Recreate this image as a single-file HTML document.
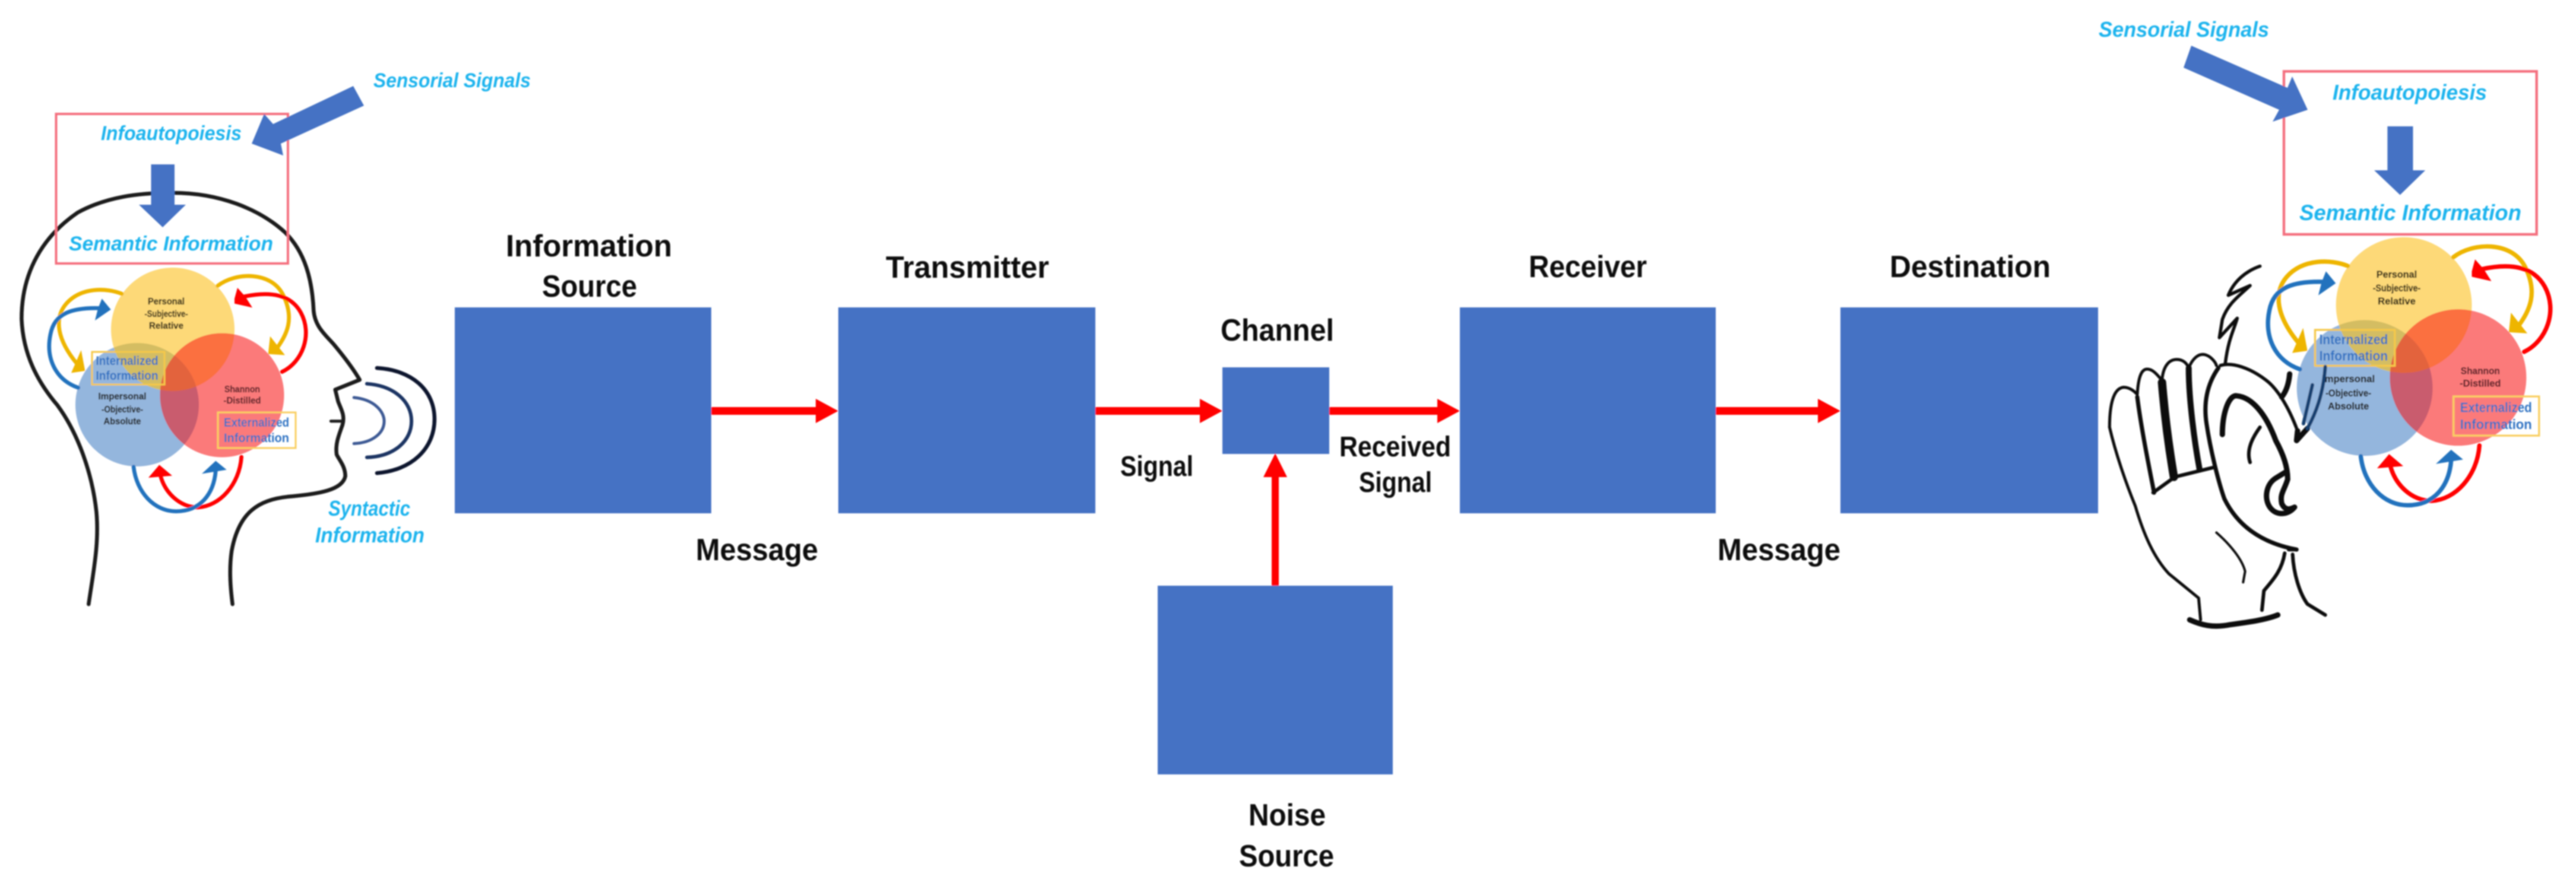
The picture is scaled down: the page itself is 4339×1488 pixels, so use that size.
<!DOCTYPE html>
<html lang="en">
<head>
<meta charset="utf-8">
<title>Communication diagram</title>
<style>
html,body{margin:0;padding:0;background:#fff}
svg{display:block}
text{font-family:"Liberation Sans",Arial,sans-serif;font-weight:700}
.t{fill:#0a0a0a;font-size:52px}
.s{fill:#0a0a0a;font-size:48px}
.c{fill:#1cb4ee;font-style:italic;font-size:34px}
.v{fill:#1a1608;font-size:15.5px;text-anchor:middle;stroke:#1a1608;stroke-width:.3px}
.i{fill:#2f72c2;font-size:21px;text-anchor:middle}
.n{vector-effect:non-scaling-stroke;fill:none;stroke-linecap:round;stroke-linejoin:round}
</style>
</head>
<body>
<svg xmlns="http://www.w3.org/2000/svg" width="4339" height="1488" viewBox="0 0 4339 1488">
<defs>
<filter id="b" x="0" y="0" width="4339" height="1488" filterUnits="userSpaceOnUse"><feGaussianBlur stdDeviation="1.1"/></filter>
<clipPath id="cy"><circle cx="291" cy="555" r="104"/></clipPath>
<clipPath id="cb"><circle cx="231" cy="682" r="104"/></clipPath>
<g id="venn">
  <circle cx="231" cy="682" r="104" fill="#94b6dd"/>
  <circle cx="291" cy="555" r="104" fill="#fdd978"/>
  <circle cx="231" cy="682" r="104" fill="#d4bd62" clip-path="url(#cy)"/>
  <circle cx="374" cy="666" r="104.5" fill="#fb7a7a"/>
  <circle cx="374" cy="666" r="104.5" fill="#fb703f" clip-path="url(#cy)"/>
  <circle cx="374" cy="666" r="104.5" fill="#c95b6e" clip-path="url(#cb)"/>
  <g clip-path="url(#cb)"><circle cx="374" cy="666" r="104.5" fill="#e3643c" clip-path="url(#cy)"/></g>
  <g transform="translate(80,440) scale(.33333)" fill="none" stroke-width="20" stroke-linecap="round">
    <path d="M375,165 C300,135 170,130 95,215 C30,290 50,400 150,520" stroke="#eeb500"/>
    <polygon points="170,450 190,555 120,565" fill="#eeb500"/>
    <path d="M155,640 C40,600 -10,490 15,370 C35,260 130,235 260,238" stroke="#2172bd"/>
    <polygon points="275,190 320,245 240,300 255,240" fill="#2172bd"/>
    <path d="M860,125 C950,55 1130,50 1190,170 C1250,290 1210,370 1160,440" stroke="#eeb500"/>
    <polygon points="1125,380 1200,475 1115,470" fill="#eeb500"/>
    <path d="M1185,560 C1290,510 1340,370 1280,260 C1230,170 1130,150 990,180" stroke="#f00"/>
    <polygon points="945,190 960,135 1000,180 1035,235 945,215" fill="#f00"/>
    <path d="M980,990 C970,1130 870,1240 760,1245 C670,1245 590,1170 570,1080" stroke="#f00"/>
    <polygon points="565,1030 510,1095 630,1085" fill="#f00"/>
    <path d="M435,1040 C450,1170 540,1265 650,1265 C770,1265 840,1180 850,1060" stroke="#2172bd"/>
    <polygon points="850,1010 780,1075 905,1055" fill="#2172bd"/>
  </g>
  <rect x="155" y="593" width="122" height="55" fill="none" stroke="#f5c84a" stroke-width="3"/>
  <rect x="367" y="695" width="131" height="60" fill="none" stroke="#f9cf60" stroke-width="3"/>
</g>
<g id="box">
  <rect x="94.5" y="192" width="390.5" height="252" fill="none" stroke="#f4707f" stroke-width="4"/>
  <polygon points="254.5,277 294,277 294,345 313,345 274,383 234,345 254.5,345" fill="#4472c4"/>
</g>
</defs>

<g filter="url(#b)">
  <!-- main boxes -->
  <g fill="#4472c4">
    <rect x="766" y="518" width="432" height="347"/>
    <rect x="1412" y="518" width="433" height="347"/>
    <rect x="2059" y="619" width="180" height="146"/>
    <rect x="1950" y="987" width="396" height="318"/>
    <rect x="2459" y="518" width="431" height="347"/>
    <rect x="3100" y="518" width="434" height="347"/>
  </g>
  <!-- connectors -->
  <g fill="#f00">
    <polygon points="1198,686 1374,686 1374,672 1412,692.5 1374,713 1374,699 1198,699"/>
    <polygon points="1845,686 2021,686 2021,672 2059,692.5 2021,713 2021,699 1845,699"/>
    <polygon points="2239,686 2421,686 2421,672 2459,692.5 2421,713 2421,699 2239,699"/>
    <polygon points="2890,686 3062,686 3062,672 3100,692.5 3062,713 3062,699 2890,699"/>
    <polygon points="2142,987 2142,804 2128,804 2148,764 2168,804 2154,804 2154,987"/>
  </g>
  <!-- labels -->
  <text class="t" x="852" y="432" textLength="280" lengthAdjust="spacingAndGlyphs">Information</text>
  <text class="t" x="913" y="500" textLength="160" lengthAdjust="spacingAndGlyphs">Source</text>
  <text class="t" x="1492" y="468" textLength="275" lengthAdjust="spacingAndGlyphs">Transmitter</text>
  <text class="t" x="2056" y="574" textLength="191" lengthAdjust="spacingAndGlyphs">Channel</text>
  <text class="t" x="2575" y="467" textLength="199" lengthAdjust="spacingAndGlyphs">Receiver</text>
  <text class="t" x="3183" y="467" textLength="271" lengthAdjust="spacingAndGlyphs">Destination</text>
  <text class="s" x="1887" y="802" textLength="123" lengthAdjust="spacingAndGlyphs">Signal</text>
  <text class="t" x="1172" y="944" textLength="206" lengthAdjust="spacingAndGlyphs">Message</text>
  <text class="t" x="2893" y="944" textLength="207" lengthAdjust="spacingAndGlyphs">Message</text>
  <text class="s" x="2256" y="769" textLength="188" lengthAdjust="spacingAndGlyphs">Received</text>
  <text class="s" x="2289" y="829" textLength="123" lengthAdjust="spacingAndGlyphs">Signal</text>
  <text class="t" x="2103" y="1391" textLength="130" lengthAdjust="spacingAndGlyphs">Noise</text>
  <text class="t" x="2087" y="1460" textLength="160" lengthAdjust="spacingAndGlyphs">Source</text>

  <!-- left head -->
  <g transform="scale(.48469,.66327)">
    <path class="n" stroke="#1a1a1a" stroke-width="6.5" d="M308,1535 C325,1450 345,1380 335,1300 C320,1200 270,1100 200,1030 C130,970 80,900 75,810 C75,690 150,600 270,540 C370,500 480,490 600,490 C760,490 900,530 990,590 C1060,640 1085,710 1090,790 C1095,830 1130,850 1160,875 C1200,910 1230,940 1250,965 L1165,990 L1175,1020 C1185,1040 1200,1055 1190,1080 C1175,1110 1165,1130 1170,1155 C1180,1170 1200,1185 1200,1210 C1190,1245 1110,1255 1000,1262 C900,1270 830,1300 805,1400 C795,1450 802,1500 808,1535"/>
    <path class="n" stroke="#1a1a1a" stroke-width="5" d="M1150,1070 L1192,1070"/>
    <path class="n" stroke="#3d5a94" stroke-width="5" d="M1230,1010 C1300,1015 1335,1045 1335,1070 C1335,1100 1295,1125 1230,1127"/>
    <path class="n" stroke="#1f3564" stroke-width="6" d="M1275,975 C1370,980 1430,1020 1430,1070 C1430,1120 1370,1160 1275,1162"/>
    <path class="n" stroke="#10182e" stroke-width="6.5" d="M1310,935 C1430,940 1510,990 1510,1065 C1510,1140 1430,1195 1310,1202"/>
  </g>
  <use href="#venn"/>
  <use href="#box"/>
  <polygon points="595,145 613,178 473,242 477,262 424,242 445,192 460,209" fill="#4472c4"/>
  <text class="c" x="629" y="147" textLength="265" lengthAdjust="spacingAndGlyphs">Sensorial Signals</text>
  <text class="c" x="170" y="236" textLength="237" lengthAdjust="spacingAndGlyphs">Infoautopoiesis</text>
  <text class="c" x="116" y="422" textLength="344" lengthAdjust="spacingAndGlyphs">Semantic Information</text>
  <text class="c" x="553" y="869" textLength="138" lengthAdjust="spacingAndGlyphs" style="font-size:36px">Syntactic</text>
  <text class="c" x="531" y="914" textLength="184" lengthAdjust="spacingAndGlyphs" style="font-size:36px">Information</text>
  <text class="v" x="280" y="513" textLength="62" lengthAdjust="spacingAndGlyphs">Personal</text>
  <text class="v" x="280" y="534" textLength="73" lengthAdjust="spacingAndGlyphs">-Subjective-</text>
  <text class="v" x="280" y="554" textLength="58" lengthAdjust="spacingAndGlyphs">Relative</text>
  <text class="v" x="206" y="673" textLength="81" lengthAdjust="spacingAndGlyphs">Impersonal</text>
  <text class="v" x="206" y="695" textLength="70" lengthAdjust="spacingAndGlyphs">-Objective-</text>
  <text class="v" x="206" y="715" textLength="63" lengthAdjust="spacingAndGlyphs">Absolute</text>
  <text class="v" x="408" y="661" textLength="60" lengthAdjust="spacingAndGlyphs" style="fill:#5a1f28;stroke:#5a1f28">Shannon</text>
  <text class="v" x="408" y="680" textLength="63" lengthAdjust="spacingAndGlyphs" style="fill:#5a1f28;stroke:#5a1f28">-Distilled</text>
  <text class="i" x="214" y="615" textLength="105" lengthAdjust="spacingAndGlyphs">Internalized</text>
  <text class="i" x="214" y="640" textLength="105" lengthAdjust="spacingAndGlyphs">Information</text>
  <text class="i" x="432" y="719" textLength="110" lengthAdjust="spacingAndGlyphs">Externalized</text>
  <text class="i" x="432" y="745" textLength="110" lengthAdjust="spacingAndGlyphs">Information</text>

  <!-- right group -->
  <use href="#venn" transform="translate(3729,-96.4) scale(1.1)"/>
  <use href="#box" transform="translate(3744,-89) scale(1.09)"/>
  <polygon points="3691,77 3853,148 3861,129 3887,185 3828,205 3839,185 3678,114" fill="#4472c4"/>
  <text class="c" x="3535" y="62" textLength="287" lengthAdjust="spacingAndGlyphs" style="font-size:36px">Sensorial Signals</text>
  <text class="c" x="3929" y="168" textLength="260" lengthAdjust="spacingAndGlyphs" style="font-size:36px">Infoautopoiesis</text>
  <text class="c" x="3873" y="371" textLength="374" lengthAdjust="spacingAndGlyphs" style="font-size:37px">Semantic Information</text>
  <g transform="translate(3729,-96.4) scale(1.1)">
    <text class="v" x="280" y="513" textLength="62" lengthAdjust="spacingAndGlyphs">Personal</text>
    <text class="v" x="280" y="534" textLength="73" lengthAdjust="spacingAndGlyphs">-Subjective-</text>
    <text class="v" x="280" y="554" textLength="58" lengthAdjust="spacingAndGlyphs">Relative</text>
    <text class="v" x="206" y="673" textLength="81" lengthAdjust="spacingAndGlyphs">Impersonal</text>
    <text class="v" x="206" y="695" textLength="70" lengthAdjust="spacingAndGlyphs">-Objective-</text>
    <text class="v" x="206" y="715" textLength="63" lengthAdjust="spacingAndGlyphs">Absolute</text>
    <text class="v" x="408" y="661" textLength="60" lengthAdjust="spacingAndGlyphs" style="fill:#5a1f28;stroke:#5a1f28">Shannon</text>
    <text class="v" x="408" y="680" textLength="63" lengthAdjust="spacingAndGlyphs" style="fill:#5a1f28;stroke:#5a1f28">-Distilled</text>
    <text class="i" x="214" y="615" textLength="105" lengthAdjust="spacingAndGlyphs">Internalized</text>
    <text class="i" x="214" y="640" textLength="105" lengthAdjust="spacingAndGlyphs">Information</text>
    <text class="i" x="432" y="719" textLength="110" lengthAdjust="spacingAndGlyphs">Externalized</text>
    <text class="i" x="432" y="745" textLength="110" lengthAdjust="spacingAndGlyphs">Information</text>
  </g>

  <!-- hand and ear -->
  <g transform="translate(3540,420) scale(.33333,.40816)" stroke="#0a0a0a">
    <path class="n" stroke-width="5" d="M40,735 C40,640 60,575 110,570 C145,570 170,590 180,600 C185,530 200,495 230,495 C265,495 290,530 305,540 C310,490 335,455 380,455 C410,455 430,470 440,490 C460,450 490,430 520,435 C550,440 575,465 580,480"/>
    <path class="n" stroke-width="5" d="M40,735 C70,840 120,960 170,1060 C210,1170 260,1270 340,1340 L490,1440 L500,1530"/>
    <path class="n" stroke-width="9" d="M445,1530 C500,1550 560,1565 650,1550 C740,1540 830,1530 890,1510"/>
    <path class="n" stroke-width="6" d="M810,1490 L820,1410 C860,1370 910,1330 925,1255"/>
    <path class="n" stroke-width="6" d="M945,1240 L985,1240 M965,1260 C970,1340 1000,1420 1040,1465 L1130,1510"/>
    <path class="n" stroke-width="7" d="M180,610 C200,740 240,900 265,1005"/>
    <path class="n" stroke-width="14" d="M305,550 C320,700 340,820 365,940"/>
    <path class="n" stroke-width="10" d="M440,490 C440,620 470,800 495,910"/>
    <path class="n" stroke-width="6" d="M260,1005 L370,940 L570,900"/>
    <path class="n" stroke-width="5.5" d="M600,480 C660,465 750,490 830,540 C880,570 940,640 990,750"/>
    <path class="n" stroke-width="7" d="M590,490 C530,560 515,640 530,720 C550,830 590,960 620,1030 C680,1130 790,1210 985,1240"/>
    <path class="n" stroke-width="9" d="M610,765 C610,680 640,605 680,605 C760,610 830,680 880,790 C920,850 940,900 940,950 C920,1000 900,1010 910,1050 C930,1085 960,1070 975,1065 C940,1100 880,1100 850,1065 C820,1030 830,970 880,945 L930,920"/>
    <path class="n" stroke-width="6" d="M750,880 C730,830 760,780 800,735"/>
    <path class="n" stroke-width="4" d="M580,1170 C650,1220 710,1280 725,1330 L715,1375"/>
    <path class="n" stroke-width="5.5" d="M800,70 C730,90 670,130 640,190 L750,150 C700,190 640,220 610,290 L595,365 L685,285 C670,330 640,370 625,470"/>
    <path class="n" stroke-width="9" d="M950,515 C945,560 930,590 910,610"/>
    <path class="n" stroke-width="9" d="M990,750 L985,790 L1040,740"/>
    <path class="n" stroke-width="6" stroke="#123f70" d="M1130,485 C1120,600 1080,680 1040,740 M1065,560 L1020,720"/>
  </g>
</g>
</svg>
</body>
</html>
